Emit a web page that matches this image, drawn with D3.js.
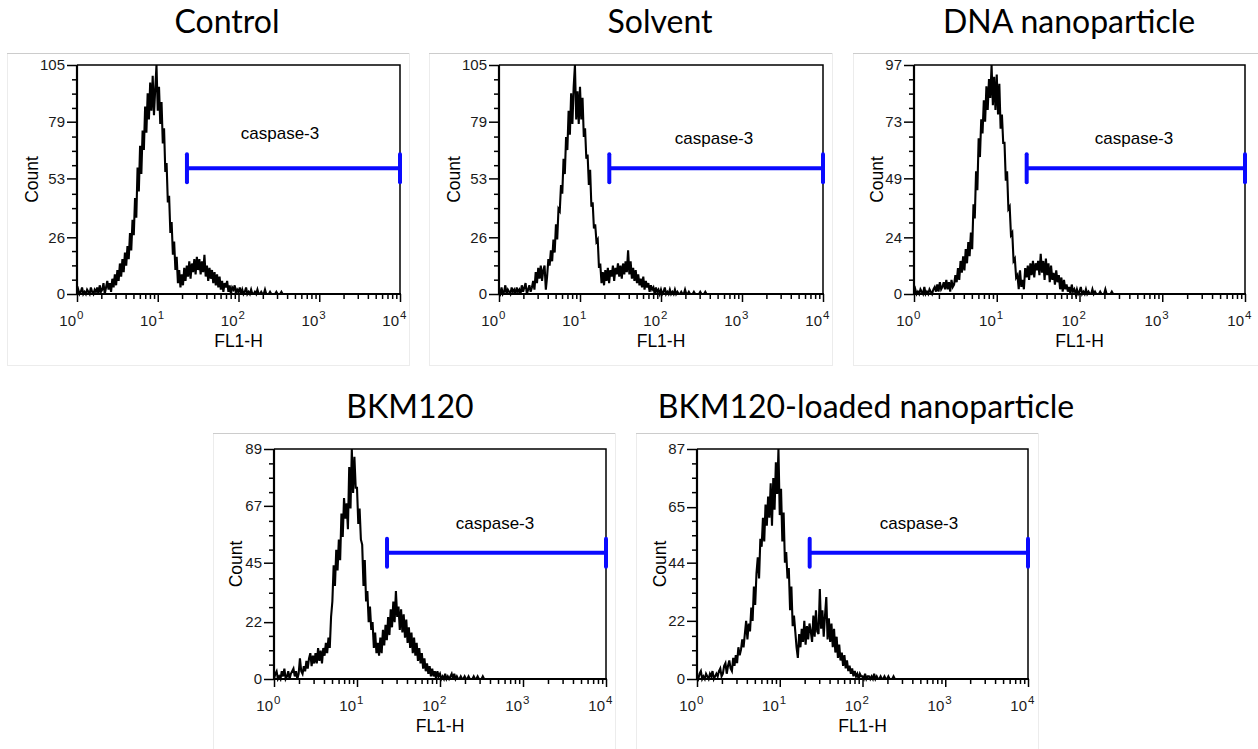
<!DOCTYPE html>
<html>
<head>
<meta charset="utf-8">
<script src="https://cdn.jsdelivr.net/npm/d3@7"></script>
<style>
  html, body { margin: 0; padding: 0; background: #fff; }
  svg { display: block; }
</style>
</head>
<body>
<svg id="chart" width="1258" height="749"></svg>
<script>
// ---- Flow cytometry histograms: FL1-H intensity vs. cell count ----

const panelTitles = ["Control", "Solvent", "DNA nanoparticle", "BKM120", "BKM120-loaded nanoparticle"];
const yMax = [105, 105, 97, 89, 87];
const yTickLabels = [
  [0, 26, 53, 79, 105],
  [0, 26, 53, 79, 105],
  [0, 24, 49, 73, 97],
  [0, 22, 45, 67, 89],
  [0, 22, 44, 65, 87]
];
const xTickExponents = [0, 1, 2, 3, 4];
const xAxisTitle = "FL1-H";
const yAxisTitle = "Count";

// histogram bins are spaced 1/64 decade apart, starting at 10^0
const binsPerDecade = 64;

const countsControl = [
  0,2,0,1,3,0,1,0,2,1,0,3,1,0,2,1,
  3,0,4,1,2,5,0,3,6,2,5,1,7,3,9,4,
  11,6,14,8,16,10,19,13,22,16,28,20,34,27,44,35,
  58,47,68,55,75,66,86,74,92,80,97,84,100,82,94,105,
  84,95,78,88,69,76,56,60,42,45,28,33,18,24,11,17,
  5,11,3,9,4,12,6,13,8,15,7,14,10,16,9,17,
  11,16,9,15,10,18,8,13,6,12,7,11,5,10,4,9,
  3,8,2,6,1,5,3,6,1,4,0,3,2,4,0,2,
  1,3,0,2,0,1,3,0,1,0,2,0,0,1,0,2,
  0,0,1,0,0,2,0,0,0,1,0,0,0,0,1,0,
  0,0,1,0,0,0
];
const countsSolvent = [
  1,0,3,0,1,4,0,2,1,0,3,1,2,0,3,1,
  2,0,4,1,3,5,0,2,4,1,3,6,2,10,5,12,
  7,13,6,11,13,2,8,16,13,20,15,25,19,32,25,39,
  38,50,46,62,55,72,66,84,73,92,78,95,105,80,93,78,
  95,80,90,72,76,62,64,50,57,40,42,30,32,24,25,12,
  14,5,10,4,11,6,12,5,11,8,13,6,12,9,14,8,
  13,7,14,9,15,10,20,9,15,7,12,6,11,5,9,4,
  7,3,8,2,6,3,5,1,4,2,3,0,3,1,2,0,
  2,0,1,3,0,1,0,2,0,1,0,2,0,1,0,0,
  1,0,0,2,0,0,1,0,0,0,1,0,0,0,0,1,
  0,0,0,1,0,0
];
const countsDnaNano = [
  0,2,0,1,0,2,1,0,3,0,1,0,2,1,0,2,
  3,1,4,1,5,2,3,5,2,6,2,5,1,6,3,4,
  8,5,11,6,14,9,16,10,19,13,22,16,26,19,38,32,
  52,44,66,58,74,68,82,73,88,78,91,83,97,80,92,78,
  93,76,89,70,76,64,64,48,52,36,37,25,26,14,15,7,
  8,2,10,3,6,2,11,7,12,6,13,8,14,7,13,10,
  14,8,17,9,14,6,15,8,13,5,12,6,9,4,10,5,
  8,2,7,1,6,2,4,1,3,0,4,1,2,0,2,0,
  1,3,0,1,0,2,0,1,0,0,2,0,1,0,0,0,
  1,0,0,0,2,0,0,0,0,1,0,0,0,0,0,0,
  0,0,0,0,0,0
];
const countsBkm120 = [
  0,2,3,0,1,0,3,1,4,0,1,3,0,2,3,4,
  1,3,0,2,8,3,2,5,3,7,4,8,10,5,9,6,
  10,6,12,7,11,6,12,9,14,10,16,12,24,30,44,36,
  50,42,54,46,64,55,70,62,68,58,82,66,89,72,86,74,
  74,60,66,54,52,36,46,30,34,22,28,19,22,12,18,10,
  14,9,16,10,19,13,21,15,24,17,27,20,30,22,34,24,
  28,19,27,18,25,16,23,14,20,12,18,10,16,9,14,7,
  12,6,10,4,8,3,6,2,5,1,4,1,3,0,3,1,
  2,0,1,0,2,0,1,0,1,2,0,2,0,1,0,0,
  1,0,0,1,0,0,1,0,0,0,1,0,0,1,0,0,
  0,1,0,0,0,0
];
const countsBkm120Nano = [
  1,0,2,3,0,1,0,2,1,0,2,1,3,0,1,2,
  1,3,4,1,2,5,6,2,5,7,4,3,8,5,9,6,
  12,9,11,15,12,17,22,15,21,18,27,22,35,28,40,46,
  38,53,50,61,52,66,58,69,61,74,58,76,64,82,70,87,
  62,72,52,63,44,48,38,42,26,35,20,24,18,12,8,17,
  12,19,14,22,13,20,15,21,18,14,24,16,26,18,17,34,
  19,26,16,24,31,15,23,14,21,12,19,10,16,8,13,7,
  10,5,9,4,7,3,5,2,4,1,3,1,2,0,2,1,
  1,0,2,0,1,1,0,1,0,2,0,1,0,0,1,0,
  0,1,0,0,1,0,0,0,1,0,0,0,0,0,0,0,
  0,0,0,0,0,0
];
const panelCounts = [countsControl, countsSolvent, countsDnaNano, countsBkm120, countsBkm120Nano];

// caspase-3 marker gate (FL1-H range) and the count level it is drawn at
const gateLabel = "caspase-3";
const gateLow = 23;
const gateHigh = 10000;
const gateLevel = [57.7, 57.7, 53.3, 48.9, 47.8];

// ---- layout of each panel on the page ----
const layout = [
  { frame: [7, 53, 409, 365],    plot: [77, 65, 400, 294],    title: [227, 33],   gateText: [280, 133], countX: 32 },
  { frame: [429, 53, 832, 365],  plot: [499, 65, 823, 294],   title: [660, 33],   gateText: [714, 138], countX: 454 },
  { frame: [853, 53, 1262, 365], plot: [914, 65, 1245, 294],  title: [1069, 33],  gateText: [1134, 138], countX: 877 },
  { frame: [213, 433, 615, 753], plot: [274, 449, 606, 679],  title: [410, 418],  gateText: [495, 523], countX: 236 },
  { frame: [636, 433, 1038, 753],plot: [697, 449, 1028, 679], title: [866, 418],  gateText: [919, 523], countX: 660 }
];

const svg = d3.select("#chart");
const ARIAL = "'Liberation Sans', Arial, sans-serif";
const TITLE_FONT = "Lato, 'Open Sans', sans-serif";

panelTitles.forEach((title, p) => {
  const L = layout[p];
  const [px0, py0, px1, py1] = L.plot;
  const g = svg.append("g");

  // light panel frame
  const [fx0, fy0, fx1, fy1] = L.frame;
  g.append("rect")
    .attr("x", fx0 + 0.5).attr("y", fy0 + 0.5)
    .attr("width", fx1 - fx0).attr("height", fy1 - fy0)
    .attr("fill", "none").attr("stroke", "#ececec").attr("stroke-width", 1);
  g.append("line")
    .attr("x1", fx0).attr("x2", fx1).attr("y1", fy0 + 0.5).attr("y2", fy0 + 0.5)
    .attr("stroke", "#cccccc").attr("stroke-width", 1);

  // panel title
  svg.append("text")
    .attr("x", L.title[0]).attr("y", L.title[1])
    .attr("text-anchor", "middle")
    .attr("font-family", TITLE_FONT)
    .attr("font-size", 32)
    .attr("fill", "#000")
    .text(title);

  const x = d3.scaleLog().domain([1, 10000]).range([px0, px1]);
  const y = d3.scaleLinear().domain([0, yMax[p]]).range([py1, py0]);

  // plot box top/right
  g.append("path")
    .attr("d", `M${px0},${py0}H${px1}V${py1}`)
    .attr("fill", "none").attr("stroke", "#000").attr("stroke-width", 1.5);

  // histogram trace
  const pts = panelCounts[p].map((c, i) => [Math.pow(10, i / binsPerDecade), c]);
  const line = d3.line().x(d => x(d[0])).y(d => y(d[1]));
  g.append("path")
    .datum(pts)
    .attr("d", line)
    .attr("fill", "none")
    .attr("stroke", "#000")
    .attr("stroke-width", 2.1)
    .attr("stroke-linejoin", "miter");

  // y axis: labelled quarter ticks + minor ticks
  const yMinor = d3.range(0, 17).map(k => k * yMax[p] / 16).filter((v, k) => k % 4 !== 0);
  const yAxisMinor = d3.axisLeft(y).tickValues(yMinor).tickSize(5).tickFormat("");
  const yAxisMajor = d3.axisLeft(y).tickValues(yTickLabels[p]).tickSize(10).tickPadding(2)
    .tickFormat(d3.format("d"));
  const gyMinor = g.append("g").attr("transform", `translate(${px0},0)`).call(yAxisMinor);
  const gy = g.append("g").attr("transform", `translate(${px0},0)`).call(yAxisMajor);
  [gy, gyMinor].forEach(a => {
    a.select(".domain").remove();
    a.selectAll(".tick line").attr("stroke", "#000").attr("stroke-width", 1.5);
  });
  gy.selectAll(".tick text")
    .attr("font-family", ARIAL).attr("font-size", 15).attr("fill", "#1a1a1a");

  // x axis: decades + minor log ticks
  const xMinor = [];
  for (let e = 0; e < 4; e++) for (let m = 2; m <= 9; m++) xMinor.push(m * Math.pow(10, e));
  const xMajor = xTickExponents.map(e => Math.pow(10, e));
  const xAxisMinor = d3.axisBottom(x).tickValues(xMinor).tickSize(5).tickFormat("");
  const xAxisMajor = d3.axisBottom(x).tickValues(xMajor).tickSize(8).tickFormat("");
  const gxMinor = g.append("g").attr("transform", `translate(0,${py1})`).call(xAxisMinor);
  const gx = g.append("g").attr("transform", `translate(0,${py1})`).call(xAxisMajor);
  [gx, gxMinor].forEach(a => {
    a.select(".domain").remove();
    a.selectAll(".tick line").attr("stroke", "#000").attr("stroke-width", 1.5);
  });
  // decade labels as 10 with superscript exponent
  xTickExponents.forEach(e => {
    const tx = x(Math.pow(10, e));
    g.append("text")
      .attr("x", tx - 1).attr("y", py1 + 32)
      .attr("text-anchor", "end")
      .attr("font-family", ARIAL).attr("font-size", 15).attr("fill", "#1a1a1a")
      .text("10");
    g.append("text")
      .attr("x", tx).attr("y", py1 + 25)
      .attr("font-family", ARIAL).attr("font-size", 11.5).attr("fill", "#1a1a1a")
      .text(String(e));
  });

  // thick left/bottom axis lines
  g.append("path")
    .attr("d", `M${px0},${py0}V${py1}H${px1 + 1}`)
    .attr("fill", "none").attr("stroke", "#000").attr("stroke-width", 2.2);

  // axis titles
  g.append("text")
    .attr("x", (px0 + px1) / 2).attr("y", py1 + 53)
    .attr("text-anchor", "middle")
    .attr("font-family", ARIAL).attr("font-size", 17.5).attr("fill", "#000")
    .text(xAxisTitle);
  g.append("text")
    .attr("transform", `translate(${L.countX},${(py0 + py1) / 2}) rotate(-90)`)
    .attr("text-anchor", "middle").attr("dominant-baseline", "central")
    .attr("font-family", ARIAL).attr("font-size", 17.5).attr("fill", "#000")
    .text(yAxisTitle);

  // caspase-3 gate marker
  const gy0 = y(gateLevel[p]);
  const gxa = x(gateLow), gxb = x(gateHigh);
  g.append("line")
    .attr("x1", gxa).attr("x2", gxb).attr("y1", gy0).attr("y2", gy0)
    .attr("stroke", "#0a0aff").attr("stroke-width", 4);
  [gxa, gxb].forEach(cx => {
    g.append("line")
      .attr("x1", cx).attr("x2", cx).attr("y1", gy0 - 14).attr("y2", gy0 + 14)
      .attr("stroke", "#0a0aff").attr("stroke-width", 4).attr("stroke-linecap", "round");
  });
  g.append("text")
    .attr("x", L.gateText[0]).attr("y", L.gateText[1])
    .attr("text-anchor", "middle").attr("dominant-baseline", "central")
    .attr("font-family", ARIAL).attr("font-size", 17).attr("fill", "#000")
    .text(gateLabel);
});
</script>
</body>
</html>
